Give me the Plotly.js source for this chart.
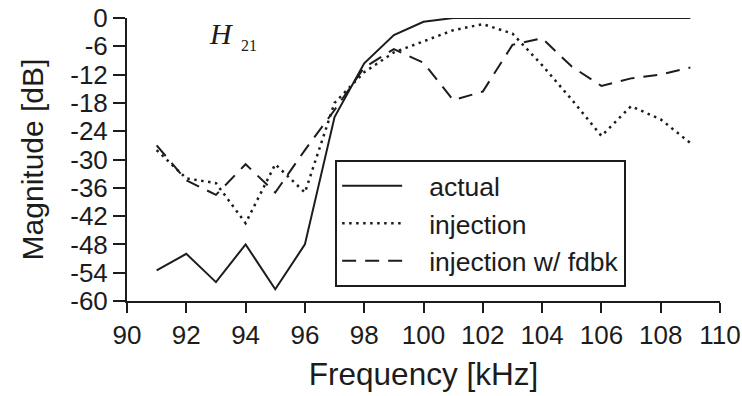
<!DOCTYPE html>
<html>
<head>
<meta charset="utf-8">
<script src="https://cdn.plot.ly/plotly-3.0.1.min.js"></script>
<style>
  html, body { margin: 0; padding: 0; background: #ffffff; }
  #chart { width: 742px; height: 396px; }
</style>
</head>
<body>
<div id="chart"></div>
<script>
// Frequency points [kHz]
const freq = [91, 92, 93, 94, 95, 96, 97, 98, 99, 100, 101, 102, 103, 104, 105, 106, 107, 108, 109];
// Magnitude [dB] series
const actual    = [-53.5, -50, -56, -48, -57.5, -48, -21, -9.6, -3.6, -0.8, 0, 0, 0, 0, 0, 0, 0, 0, 0];
const injection = [-28, -34, -35, -43.5, -31, -37, -18, -11.5, -7.3, -5, -2.6, -1.3, -3.3, -10, -17.3, -25, -18.7, -21.5, -26.5];
const injectionFdbk = [-27, -34.4, -37.5, -31, -37, -28, -19.5, -10.5, -6.6, -9.5, -17.4, -15.6, -5.7, -4.3, -10.3, -14.4, -12.8, -12, -10.5];
const seriesNames = ["actual", "injection", "injection w/ fdbk"];
// Tick labels
const xTicks = [90, 92, 94, 96, 98, 100, 102, 104, 106, 108, 110];
const yTicks = [0, -6, -12, -18, -24, -30, -36, -42, -48, -54, -60];
const yTickText = ["0", "-6", "-12", "-18", "-24", "-30", "-36", "-42", "-48", "-54", "-60"];

const ink = "#1c1c1c";
const sans = "Liberation Sans, Arial, Helvetica, sans-serif";
const pad = "\u00a0\u00a0\u00a0";

const traces = [
  { x: freq, y: actual, name: pad + seriesNames[0], legendgroup: "a", mode: "lines",
    line: { color: ink, width: 2, dash: "solid" } },
  { x: freq, y: injection, name: pad + seriesNames[1], legendgroup: "b", mode: "lines",
    line: { color: ink, width: 2.5, dash: "2.5px,4.5px" } },
  { x: freq, y: injectionFdbk, name: pad + seriesNames[2], legendgroup: "c", mode: "lines",
    line: { color: ink, width: 2, dash: "14px,9px" } }
];

const layout = {
  width: 742, height: 396,
  margin: { l: 127, r: 22, t: 18, b: 95, pad: 0 },
  paper_bgcolor: "#ffffff",
  plot_bgcolor: "#ffffff",
  font: { family: sans, color: ink, size: 26 },
  showlegend: true,
  legend: {
    x: 0.351, y: 0.498, xanchor: "left", yanchor: "top",
    bgcolor: "#ffffff", bordercolor: ink, borderwidth: 2,
    font: { family: sans, size: 26.5, color: ink },
    itemwidth: 60, tracegroupgap: 5,
    traceorder: "normal"
  },
  xaxis: {
    range: [90, 110], tickvals: xTicks, ticktext: xTicks.map(String),
    ticks: "outside", ticklen: 10, tickwidth: 2, tickcolor: ink,
    showline: true, linewidth: 2, linecolor: ink,
    showgrid: false, zeroline: false, automargin: false,
    tickfont: { family: sans, size: 26, color: ink },
    title: { text: "Frequency [kHz]", font: { family: sans, size: 31.5, color: ink }, standoff: 14 }
  },
  yaxis: {
    range: [-60, 0], tickvals: yTicks, ticktext: yTickText,
    ticks: "outside", ticklen: 12, tickwidth: 2, tickcolor: ink,
    showline: true, linewidth: 2, linecolor: ink,
    showgrid: false, zeroline: false, automargin: false,
    tickfont: { family: sans, size: 26, color: ink },
    title: { text: "Magnitude [dB]", font: { family: sans, size: 30, color: ink }, standoff: 18 }
  },
  annotations: [
    { xref: "paper", yref: "paper", x: (207 - 127) / 593, y: (300.7 - 52) / 282.7,
      xanchor: "left", yanchor: "bottom", showarrow: false,
      text: "<i>H</i>", font: { family: "Liberation Serif, Times New Roman, serif", size: 30, color: ink } },
    { xref: "paper", yref: "paper", x: (239 - 127) / 593, y: (300.7 - 56) / 282.7,
      xanchor: "left", yanchor: "bottom", showarrow: false,
      text: "21", font: { family: "Liberation Serif, Times New Roman, serif", size: 16, color: ink } }
  ]
};

Plotly.newPlot("chart", traces, layout, { displayModeBar: false, staticPlot: true });
</script>
</body>
</html>
